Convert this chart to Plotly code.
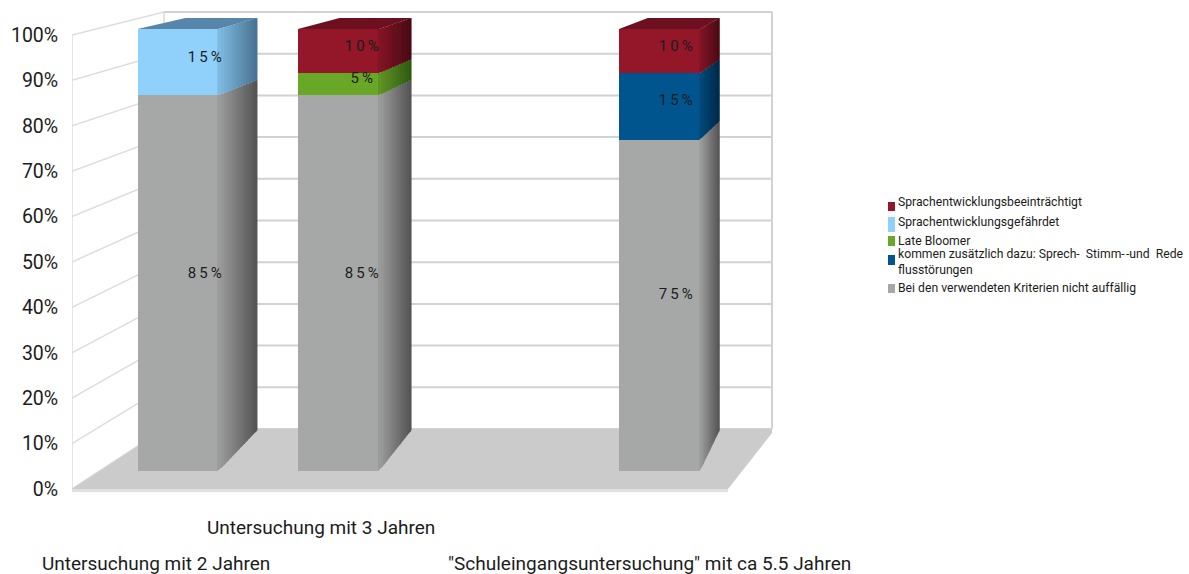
import plotly.graph_objects as go

categories = ["Untersuchung mit 2 Jahren", "Untersuchung mit 3 Jahren", "",
              '"Schuleingangsuntersuchung" mit ca 5.5 Jahren']
series_names = ["Bei den verwendeten Kriterien nicht auffällig",
                "kommen zusätzlich dazu: Sprech-\u00a0\u00a0Stimm-\u200a-und\u00a0\u00a0Rede<br>flusstörungen",
                "Late Bloomer", "Sprachentwicklungsgefährdet", "Sprachentwicklungsbeeinträchtigt"]
gray = [85, 85, 0, 75]
blue = [0, 0, 0, 15]
green = [0, 5, 0, 0]
light_blue = [15, 0, 0, 0]
red = [0, 10, 0, 10]
series_values = [gray, blue, green, light_blue, red]
front_colors = [(166, 168, 167), (0, 85, 143), (105, 168, 39), (143, 209, 251), (147, 22, 41)]
side_light = [(158, 158, 158), (0, 74, 124), (96, 150, 36), (128, 188, 226), (132, 20, 38)]
side_dark = [(82, 82, 82), (0, 40, 70), (46, 88, 16), (70, 112, 144), (72, 10, 20)]
top_colors = [(120, 120, 120), (0, 50, 85), (60, 100, 25), (88, 134, 170), (108, 16, 32)]
tick_values = list(range(0, 101, 10))
text_font = "Roboto"

W, H, L, R, T, B = 1189, 574, 72, 780, 5, 500

# primary axes = plane of the bar fronts
def X(p): return (p - 178) / 160.5
def Y(p): return (471 - p) / 4.42
x_back = lambda c: c * 0.96 + 0.2709
y_back = lambda v: 9.276 + 0.932 * v
FRONT_HALF, BACK_HALF = 0.2523, 0.2243
def rgb(c): return f"rgb({c[0]:.0f},{c[1]:.0f},{c[2]:.0f})"
def mix(a, b, t): return tuple(a[i] + (b[i] - a[i]) * t for i in range(3))

fig = go.Figure()
positions = list(range(len(categories)))
for name, vals, col in zip(series_names, series_values, front_colors):
    fig.add_bar(x=positions, y=vals, name=name.replace("<br>", " "), marker=dict(color=rgb(col), line_width=0),
                width=2 * FRONT_HALF, showlegend=False, hoverinfo="skip")

STRIPS = 14
label_x, label_y, label_t = [], [], []
for c in positions:
    base = 0
    segs = [(i, series_values[i][c]) for i in range(len(series_values)) if series_values[i][c] > 0]
    for k, (i, v) in enumerate(segs):
        top = base + v
        xf, xb = c + FRONT_HALF, x_back(c) + BACK_HALF
        if k == len(segs) - 1:
            col = rgb(top_colors[i])
            xs = [c - FRONT_HALF, c + FRONT_HALF, xb, x_back(c) - BACK_HALF, c - FRONT_HALF]
            ys = [top, top, y_back(top), y_back(top), top]
            fig.add_scatter(x=xs, y=ys, mode="lines", fill="toself", fillcolor=col,
                            line=dict(color=col, width=0), showlegend=False, hoverinfo="skip")
        for s in range(STRIPS):
            t0, t1 = (s / STRIPS if s else -0.03), min(1, (s + 1.6) / STRIPS)
            def pt(t, val):
                return xf + (xb - xf) * t, val + (y_back(val) - val) * max(t, 0)
            pts = [pt(t0, base), pt(t1, base), pt(t1, top), pt(t0, top), pt(t0, base)]
            col = rgb(mix(side_light[i], side_dark[i], (s + 0.5) / STRIPS))
            fig.add_scatter(x=[p[0] for p in pts], y=[p[1] for p in pts], mode="lines", fill="toself",
                            fillcolor=col, line=dict(color=col, width=0), showlegend=False, hoverinfo="skip")
        mid = base + v / 2
        label_x.append(c + (x_back(c) - c) * 0.55 + 0.018)
        label_y.append(mid + (y_back(mid) - mid) * 0.33)
        label_t.append("\u2009".join(f"{v}%"))
        base = top

fig.add_scatter(x=label_x, y=label_y, text=label_t, mode="text", showlegend=False, hoverinfo="skip",
                textfont=dict(family=text_font, size=15, color="#1c1c1c"), textposition="middle center")
# carrier for the axes of the front wall / label row
fig.add_scatter(x=[0], y=[0], xaxis="x2", yaxis="y2", mode="markers", marker=dict(opacity=0),
                showlegend=False, hoverinfo="skip")

# walls, floor, gridlines
def line(x0, y0, x1, y1, color="#d2d2d2", width=2, dash=None):
    return dict(type="line", xref="x", yref="y", layer="below", x0=X(x0), y0=Y(y0), x1=X(x1), y1=Y(y1),
                line=dict(color=color, width=width, dash=dash))
shapes = []
front_y = lambda v: 489 - 4.54 * v
wall_y = lambda v: 429 - 4.17 * v
for v in tick_values:
    shapes.append(line(72, front_y(v), 164, wall_y(v), "#dddddd", 1.5))
    shapes.append(line(164, wall_y(v), 772, wall_y(v), "#d2d2d2", 2))
shapes.append(line(72, front_y(0), 72, front_y(100), "#dcdcdc", 1.5))
shapes.append(line(164, wall_y(0), 164, wall_y(100), "#d8d8d8", 1.5))
shapes.append(line(772, wall_y(0), 772, wall_y(100), "#d2d2d2", 2))
def poly(pts, fill):
    path = "M" + " L".join(f"{X(a)},{Y(b)}" for a, b in pts) + " Z"
    return dict(type="path", path=path, xref="x", yref="y", layer="below", fillcolor=fill, line_width=0)
shapes.append(poly([(72, 489), (728, 489), (728, 492), (72, 492)], "#e0e0e0"))
shapes.append(poly([(72, 489), (164, 429), (772, 433), (728, 489)], "#cbcbcb"))
shapes.append(poly([(164, 429), (772, 429), (772, 433), (164, 433)], "#cbcbcb"))

# legend drawn beside the plot
legend_order = [4, 3, 2, 1, 0]
legend_text_y = [202, 222, 241, 262, 288]
swatch_top = [202, 217, 236, 255, 284]
swatch_bot = [211, 232, 246, 265, 293]
annotations = []
for idx, ty, s0, s1 in zip(legend_order, legend_text_y, swatch_top, swatch_bot):
    shapes.append(dict(type="rect", xref="paper", yref="paper", x0=888 / W, x1=895 / W,
                       y0=1 - s1 / H, y1=1 - s0 / H, fillcolor=rgb(front_colors[idx]), line_width=0))
    annotations.append(dict(text=series_names[idx], xref="paper", yref="paper", x=897 / W, y=1 - ty / H,
                            xanchor="left", yanchor="middle", align="left", showarrow=False, borderpad=0,
                            font=dict(family=text_font, size=12.2, color="#1c1c1c")))

# staggered category labels
label_rows = [563, 527, None, 563]
for c, cat, row in zip(positions, categories, label_rows):
    if row is None:
        continue
    annotations.append(dict(text=cat, xref="x2", yref="paper", x=c, y=1 - row / H, xanchor="center",
                            yanchor="middle", showarrow=False, borderpad=0,
                            font=dict(family=text_font, size=19, color="#1c1c1c")))

xdom = [L / W, R / W]
ydom = [1 - B / H, 1 - T / H]
fig.update_layout(
    width=W, height=H, margin=dict(l=0, r=0, t=0, b=0), paper_bgcolor="white", plot_bgcolor="white",
    barmode="stack", showlegend=False, shapes=shapes, annotations=annotations,
    xaxis=dict(domain=xdom, range=[X(L), X(R)], visible=False, fixedrange=True),
    yaxis=dict(domain=ydom, range=[Y(B), Y(T)], visible=False, fixedrange=True),
    xaxis2=dict(domain=xdom, range=[(L - 156) / 164.5, (R - 156) / 164.5], overlaying="x", visible=False,
                fixedrange=True),
    yaxis2=dict(domain=ydom, range=[(489 - B) / 4.54, (489 - T) / 4.54], overlaying="y", side="left", showgrid=False,
                zeroline=False, showline=False, fixedrange=True, anchor="x2",
                tickmode="array", tickvals=tick_values, ticktext=[f"{v}%" for v in tick_values],
                ticks="outside", ticklen=9, tickcolor="rgba(0,0,0,0)",
                tickfont=dict(family=text_font, size=19.5, color="#1c1c1c")),
)
fig.write_html("out.html", post_script="document.body.style.margin='0';document.body.style.overflow='hidden';",
               config=dict(displayModeBar=False))
